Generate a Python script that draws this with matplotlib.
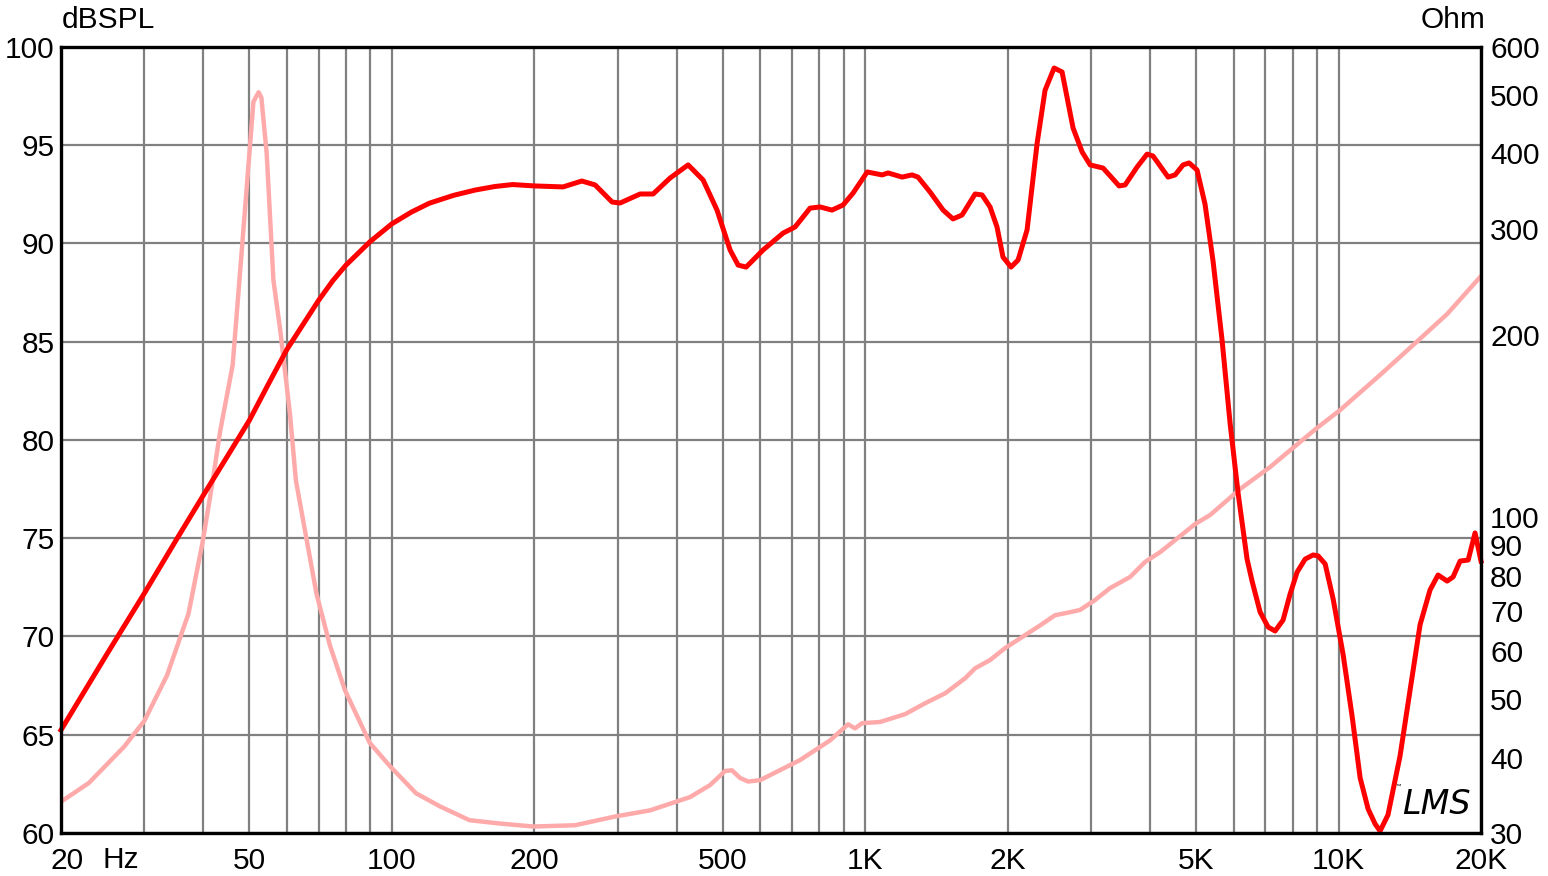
#!/usr/bin/env python3

import matplotlib
matplotlib.use('Agg')
from matplotlib import pyplot as plt
from matplotlib.ticker import NullLocator
from matplotlib.transforms import ScaledTranslation

plt.rcParams['font.family'] = ['Liberation Sans', 'DejaVu Sans']

# SPL response (dB) vs frequency (Hz)
spl_freq = [20, 25, 30, 35, 40, 45, 50, 55, 60, 65, 70, 75, 80, 90, 100, 110, 120, 135, 150,
            165, 180, 200, 230, 252,
            268.8, 292, 303.5, 334.6, 356.4, 387, 422.6, 454.6, 486.4, 518.3, 539, 560.4,
            608.6, 670.8, 710.9, 764.8, 802.9, 851, 898, 943, 1010, 1086, 1118, 1197, 1256,
            1293, 1371, 1461, 1533, 1602, 1707, 1766, 1836, 1899, 1955, 2033, 2104, 2198,
            2308, 2399, 2507, 2606, 2749, 2873, 2987, 3181, 3324, 3439, 3541, 3753, 3941,
            4057, 4365, 4516, 4695, 4834, 5025, 5224, 5432, 5675, 5900, 6135, 6409, 6567,
            6828, 7100, 7346, 7637, 7902, 8177, 8503, 8840, 9058, 9372, 9744, 10230, 10690,
            11110, 11550, 11950, 12240, 12720, 13490, 14170, 14870, 15610, 16230, 16960,
            17460, 18070, 18790, 19430, 20000]
spl_db = [65.24, 69.1, 72.2, 74.9, 77.2, 79.2, 81.0, 82.9, 84.6, 85.9, 87.1, 88.1, 88.9,
          90.1, 91.0, 91.6, 92.05, 92.45, 92.72, 92.9, 93.0, 92.93,
          92.88, 93.18, 92.98, 92.11, 92.06, 92.52, 92.52, 93.33, 94.0, 93.23, 91.7, 89.67,
          88.9, 88.8, 89.67, 90.53, 90.84, 91.8, 91.86, 91.7, 91.96, 92.57, 93.64, 93.49,
          93.59, 93.38, 93.49, 93.38, 92.62, 91.7, 91.25, 91.45, 92.52, 92.47, 91.86, 90.84,
          89.31, 88.8, 89.16, 90.69, 95.1, 97.8, 98.93, 98.73, 95.88, 94.66, 94.0, 93.84,
          93.33, 92.93, 92.98, 93.89, 94.55, 94.45, 93.38, 93.49, 94.0, 94.1, 93.74, 92.0,
          89.1, 85.09, 80.87, 77.3, 73.94, 72.82, 71.25, 70.48, 70.28, 70.84, 72.16, 73.28,
          73.94, 74.15, 74.1, 73.69, 71.9, 69.06, 65.9, 62.8, 61.22, 60.46, 60.1, 60.92,
          63.92, 67.3, 70.6, 72.37, 73.13, 72.82, 73.03, 73.84, 73.89, 75.27, 73.84]

# impedance (Ohm) vs frequency (Hz)
imp_freq = [20, 22.9, 27.2, 30, 33.5, 37.2, 39.8, 41.7, 43.4, 46.1, 48.2, 51, 52.3, 53,
            54.4, 56.2, 58.1, 60.9, 62.7, 69.3, 74.0, 79.6, 89.8, 99.1, 112.5, 126.4, 145.9,
            169.3, 199, 243.8, 296.5, 351,
            426.5, 470, 506, 523, 544, 566, 600, 728, 843, 920, 952, 985, 1075, 1215, 1339,
            1476, 1626, 1707, 1836, 1975, 2125, 2343, 2518, 2709, 2844, 3059, 3292, 3628,
            3903, 4199, 4516, 4978, 5355, 6196, 7167, 7902, 9010, 10080, 12240, 14380,
            16960, 20000]
imp_ohm = [33.8, 36.3, 41.7, 46.0, 54.7, 69.3, 90.6, 113, 139, 178.5, 276.7, 487, 505, 495,
           400, 247, 204, 148.5, 115, 74.7, 61.3, 51.7, 42.3, 38.7, 34.9, 33.2, 31.5,
           31.1, 30.75, 30.9, 31.95, 32.7,
           34.4, 36.0, 38.0, 38.1, 37.0, 36.5, 36.7, 39.6, 42.7, 45.4, 44.7, 45.6, 45.8,
           47.2, 49.2, 51.1, 54.1, 56.2, 58.0, 60.7, 63.0, 66.2, 68.8, 69.6, 70.2, 72.9,
           76.3, 79.6, 84.3, 87.5, 91.6, 97.4, 100.8, 111.3, 121, 129, 140.5, 150.4, 171.9,
           192.7, 216.8, 250.6]

x_grid = [20, 30, 40, 50, 60, 70, 80, 90, 100, 200, 300, 400, 500, 600, 700, 800, 900,
          1000, 2000, 3000, 4000, 5000, 6000, 7000, 8000, 9000, 10000, 20000]
x_labels = {20: '20', 50: '50', 100: '100', 200: '200', 500: '500', 1000: '1K',
            2000: '2K', 5000: '5K', 10000: '10K', 20000: '20K'}
db_ticks = [60, 65, 70, 75, 80, 85, 90, 95, 100]
ohm_ticks = [30, 40, 50, 60, 70, 80, 90, 100, 200, 300, 400, 500, 600]

GRID = '#808080'
RED = '#ff0000'
PINK = '#ffaaaa'
FS = 21.5

fig = plt.figure(figsize=(15.48, 8.76), dpi=100)
ax = fig.add_axes([61 / 1548, 1 - 833 / 876, 1420 / 1548, 786 / 876])

ax.set_xscale('log')
ax.set_xlim(20, 20000)
ax.set_ylim(60, 100)
ax.set_xticks(x_grid)
ax.set_xticklabels([x_labels.get(f, '') for f in x_grid], fontsize=FS)
ax.xaxis.set_minor_locator(NullLocator())
ax.set_yticks(db_ticks)
ax.set_yticklabels([str(v) for v in db_ticks], fontsize=FS)
ax.tick_params(axis='x', length=0, pad=10)
ax.tick_params(axis='y', length=0, pad=4.5)
ax.grid(True, color=GRID, linewidth=1.6)
for s in ax.spines.values():
    s.set_visible(False)
# "20" sits a bit right of its grid line
first = ax.get_xticklabels()[0]
first.set_transform(first.get_transform() + ScaledTranslation(0.06, 0, fig.dpi_scale_trans))

# impedance axis (log)
ax2 = ax.twinx()
ax2.set_yscale('log')
ax2.set_ylim(30, 600)
ax2.set_yticks(ohm_ticks)
ax2.set_yticklabels([str(v) for v in ohm_ticks], fontsize=FS)
ax2.yaxis.set_minor_locator(NullLocator())
ax2.tick_params(axis='y', length=0, pad=6.5)
for s in ax2.spines.values():
    s.set_visible(False)
ax2.plot(imp_freq, imp_ohm, color=PINK, linewidth=3.2, solid_joinstyle='round')

# SPL on top
ax3 = ax.twinx()
ax3.set_ylim(60, 100)
ax3.set_yticks([])
ax3.plot(spl_freq, spl_db, color=RED, linewidth=3.6, solid_joinstyle='round', clip_on=False)
for s in ax3.spines.values():
    s.set_linewidth(2.4)
    s.set_color('black')

fig.text(62 / 1548, 1 - 20 / 876, 'dBSPL', fontsize=FS, ha='left', va='center')
fig.text(1486 / 1548, 1 - 20 / 876, 'Ohm', fontsize=FS, ha='right', va='center')
fig.text(121 / 1548, 1 - 860 / 876, 'Hz', fontsize=FS, ha='center', va='center')

# logo
fig.text(1436 / 1548, 1 - 804 / 876, 'LMS', fontsize=24, style='italic',
         ha='center', va='center', family=['DejaVu Sans'])
fig.text(1398 / 1548, 1 - 786 / 876, '™', fontsize=4, ha='center', va='center')

fig.savefig('out.png', dpi=100)
